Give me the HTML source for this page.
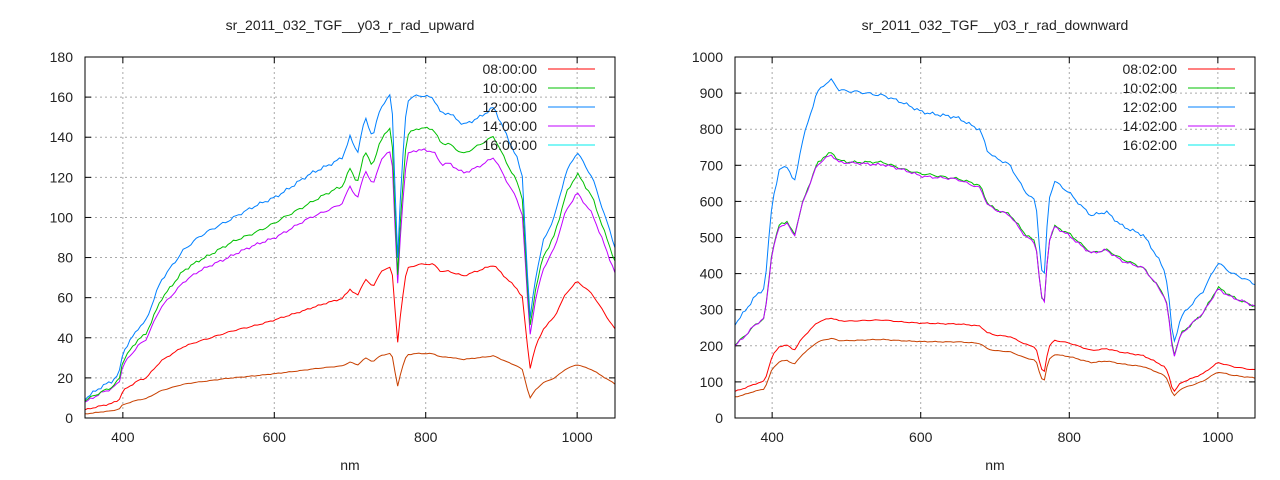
<!DOCTYPE html>
<html><head><meta charset="utf-8"><style>
body{margin:0;background:#fff;}
svg{display:block;font-family:"Liberation Sans",sans-serif;}
</style></head><body>
<svg id="s" width="1280" height="480" xmlns="http://www.w3.org/2000/svg"></svg>
<script>
const S=document.getElementById('s');let h='';
function interp(pts,x){for(let i=0;i<pts.length-1;i++){if(x>=pts[i][0]&&x<=pts[i+1][0]){const t=(x-pts[i][0])/(pts[i+1][0]-pts[i][0]);return pts[i][1]+t*(pts[i+1][1]-pts[i][1]);}}return pts[pts.length-1][1];}
function noise(x,k){return Math.sin(x*0.37+k)*0.5+Math.sin(x*0.91+2*k)*0.35+Math.sin(x*1.7+k*3)*0.25;}
const up=[[350,10],[370,15],[385,18],[395,22],[400,33],[420,45],[430,48],[450,68],[480,84],[500,90],[550,101],[600,110],[650,122],[690,130],[700,140],[710,132],[720,150],[730,140],[740,155],[755,162],[760,110],[763,80],[768,120],[775,158],[790,161],[810,160],[820,152],[830,152],[850,146],[870,150],[890,155],[905,142],[920,130],[928,120],[933,80],[938,50],[945,70],[955,88],[970,100],[985,122],[1000,133],[1020,120],[1050,85]];
const dn=[[350,262],[365,300],[375,330],[390,360],[400,600],[410,690],[420,700],[430,650],[440,760],[460,900],[470,925],[480,938],[490,910],[500,905],[550,895],[600,850],[650,830],[680,800],[690,740],[700,720],[720,700],[740,630],[755,600],[762,420],[766,380],[772,600],[780,655],[800,625],[820,580],[830,560],[850,570],[870,535],[900,505],[920,440],[930,400],[936,300],[940,200],[950,280],[980,350],[1000,432],[1020,400],[1050,370]];
function plot(ox,x0,x1,ymax,yt,title,pts,series,labels){
 const X=v=>x0+(v-350)/700*(x1-x0), Y=v=>418-v/ymax*361;
 for(const t of [400,600,800,1000]){h+=`<line x1="${X(t)}" y1="57" x2="${X(t)}" y2="418" stroke="#aaa" stroke-dasharray="2,3"/>`;h+=`<text x="${X(t)}" y="442" font-size="14" text-anchor="middle" fill="#222">${t}</text>`;h+=`<line x1="${X(t)}" y1="418" x2="${X(t)}" y2="412" stroke="#000"/><line x1="${X(t)}" y1="57" x2="${X(t)}" y2="63" stroke="#000"/>`;}
 for(let v=0;v<=ymax;v+=yt){const y=Y(v);if(v>0&&v<ymax)h+=`<line x1="${x0}" y1="${y}" x2="${x1}" y2="${y}" stroke="#aaa" stroke-dasharray="2,3"/>`;h+=`<text x="${x0-12}" y="${y+5}" font-size="14" text-anchor="end" fill="#222">${v}</text>`;h+=`<line x1="${x0}" y1="${y}" x2="${x0+6}" y2="${y}" stroke="#000"/><line x1="${x1}" y1="${y}" x2="${x1-6}" y2="${y}" stroke="#000"/>`;}
 h+=`<text x="${(x0+x1)/2}" y="30" font-size="14" text-anchor="middle" fill="#222">${title}</text>`;
 h+=`<text x="${(x0+x1)/2}" y="470" font-size="14" text-anchor="middle" fill="#222">nm</text>`;
 series.forEach(([col,a,b,k])=>{let d='';for(let nm=350;nm<=1050;nm+=3.5){const f=a+b*(nm-350)/700;let v=interp(pts,nm)*f+noise(nm,k)*ymax*0.006*f;if(v<0)v=0;d+=(d?'L':'M')+X(nm).toFixed(1)+','+Y(v).toFixed(1);}h+=`<path d="${d}" fill="none" stroke="${col}" stroke-width="1"/>`;});
 const lc=['#ff0000','#00c000','#0080ff','#c000ff','#00eeee'];
 labels.forEach((l,i)=>{const y=69+i*19;h+=`<text x="${x1-78}" y="${y+5}" font-size="14" text-anchor="end" fill="#222">${l}</text><line x1="${x1-67}" y1="${y}" x2="${x1-20}" y2="${y}" stroke="${lc[i]}"/>`;});
 h+=`<rect x="${x0}" y="57" width="${x1-x0}" height="361" fill="none" stroke="#000"/>`;
}
plot(0,85,615,180,20,'sr_2011_032_TGF__y03_r_rad_upward',up,
 [['#c84000',0.2,0,5],['#ff0000',0.4,0.12,3],['#c000ff',0.8,0.05,2],['#00c000',0.86,0.06,1],['#0080ff',1,0,0]],
 ['08:00:00','10:00:00','12:00:00','14:00:00','16:00:00']);
plot(0,735,1255,1000,100,'sr_2011_032_TGF__y03_r_rad_downward',dn,
 [['#c84000',0.22,0.08,5],['#ff0000',0.28,0.08,3],['#00c000',0.77,0.07,1],['#c000ff',0.765,0.07,2],['#0080ff',1,0,0]],
 ['08:02:00','10:02:00','12:02:00','14:02:00','16:02:00']);
S.innerHTML=h;
</script>
</body></html>
